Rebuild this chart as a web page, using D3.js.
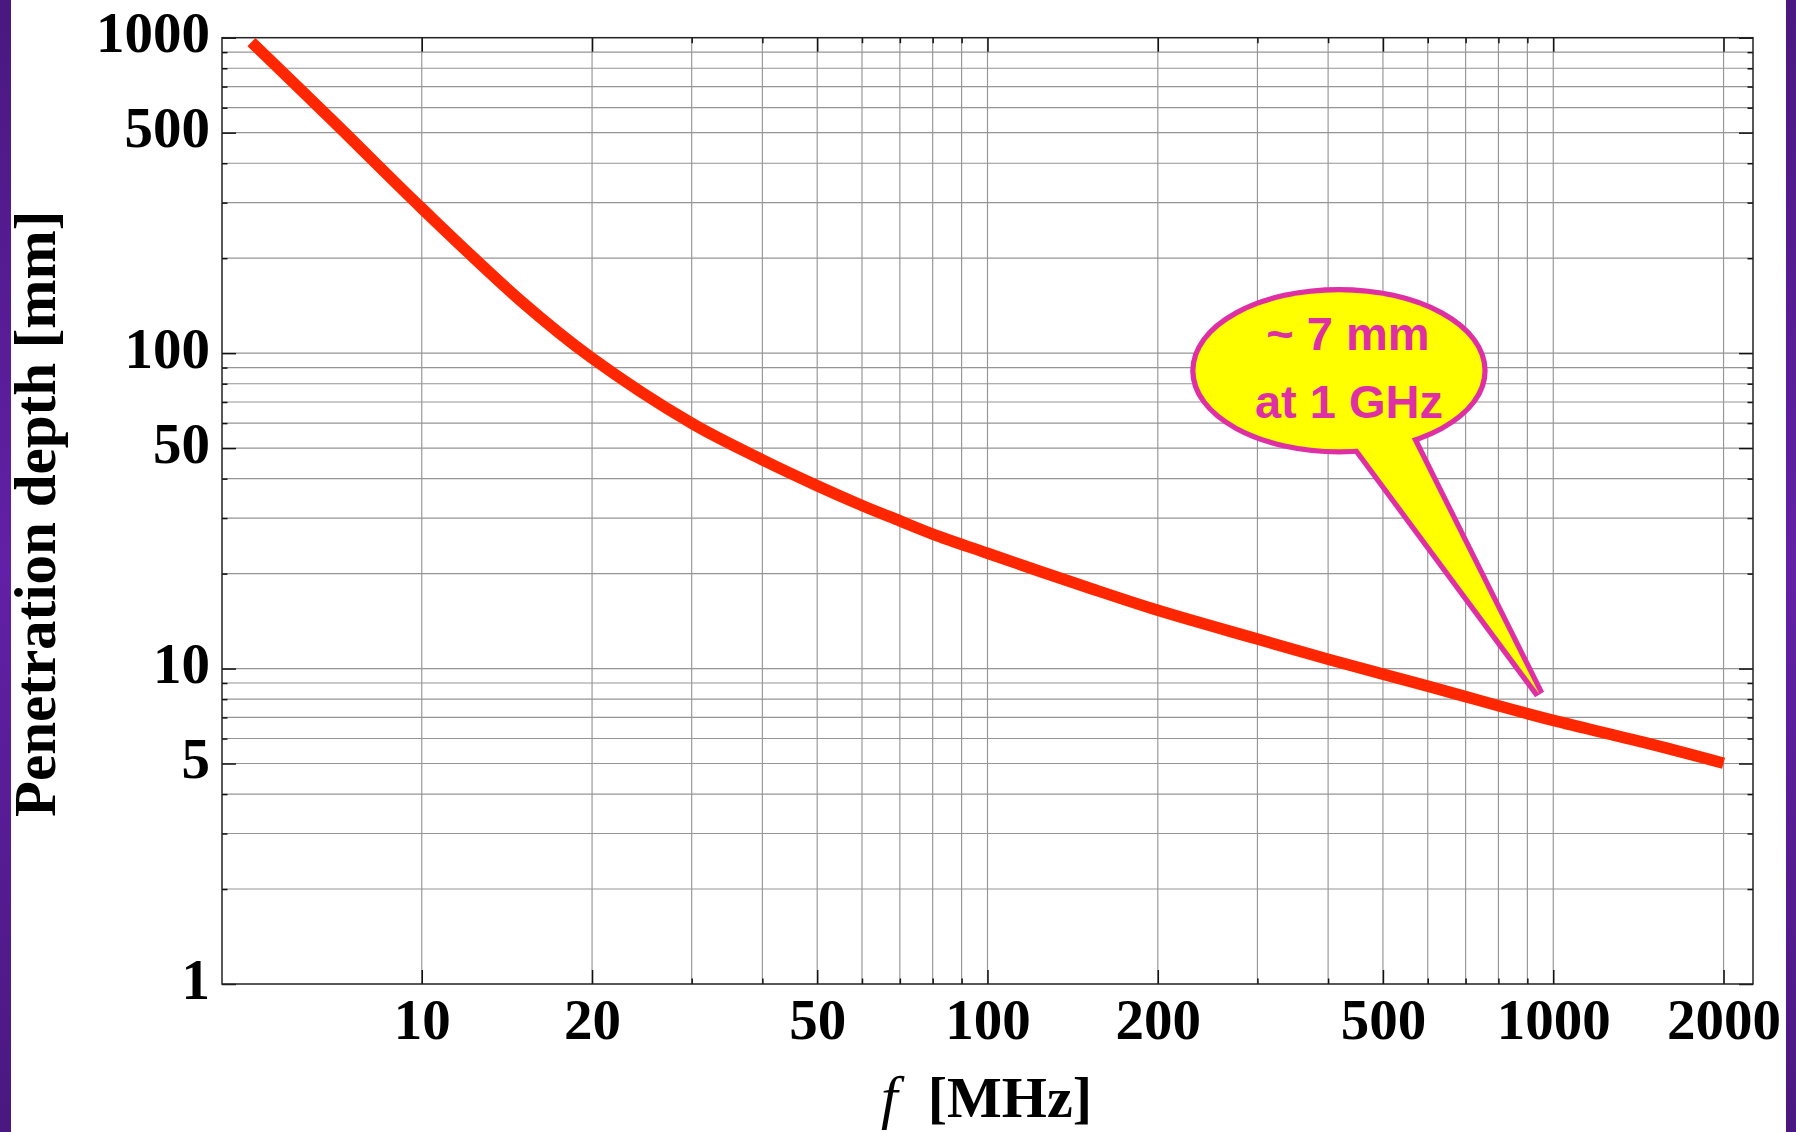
<!DOCTYPE html>
<html>
<head>
<meta charset="utf-8">
<script src="https://cdn.jsdelivr.net/npm/d3@7"></script>
<style>
  html, body { margin: 0; padding: 0; background: #ffffff; }
  svg { display: block; }
</style>
</head>
<body>
<svg id="chart" width="1796" height="1132"></svg>
<script>
// ---- data ----
const freqMHz  = [5, 7, 10, 15, 20, 30, 40, 50, 60, 70, 80, 100, 150, 200, 300, 400, 500, 600, 700, 800, 1000, 1500, 2000];
const depthMm  = [968, 540, 288, 146, 96.4, 59.9, 45.9, 38.0, 32.9, 29.4, 26.7, 23.2, 18.1, 15.3, 12.4, 10.7, 9.6, 8.8, 8.15, 7.62, 6.85, 5.74, 5.01];

const xMajorTicks = [10, 20, 50, 100, 200, 500, 1000, 2000];
const xMinorTicks = [30, 40, 60, 70, 80, 90, 300, 400, 600, 700, 800, 900];
const xGridValues = [10, 20, 30, 40, 50, 60, 70, 80, 90, 100, 200, 300, 400, 500, 600, 700, 800, 900, 1000, 2000];
const yMajorTicks = [1, 5, 10, 50, 100, 500, 1000];
const yMinorTicks = [2, 3, 4, 6, 7, 8, 9, 20, 30, 40, 60, 70, 80, 90, 200, 300, 400, 600, 700, 800, 900];
const yGridValues = [2, 3, 4, 5, 6, 7, 8, 9, 10, 20, 30, 40, 50, 60, 70, 80, 90, 100, 200, 300, 400, 500, 600, 700, 800, 900];

const xLabel = "[MHz]";
const xLabelVar = "f";
const yLabel = "Penetration depth [mm]";
const calloutLines = ["~ 7 mm", "at 1 GHz"];
const calloutTip = {f: 945, d: 8.3};
const calloutCenter = {f: 418, d: 88};

// ---- layout ----
const W = 1796, H = 1132;
const plot = {left: 222, right: 1753, top: 37.7, bottom: 984};

const svg = d3.select("#chart");

// purple side bands
const defs = svg.append("defs");
const grad = defs.append("linearGradient").attr("id", "purp").attr("x1", 0).attr("y1", 0).attr("x2", 0).attr("y2", 1);
grad.append("stop").attr("offset", "0%").attr("stop-color", "#4a1880");
grad.append("stop").attr("offset", "50%").attr("stop-color", "#6220a6");
grad.append("stop").attr("offset", "100%").attr("stop-color", "#4a1880");
svg.append("rect").attr("x", 0).attr("y", 0).attr("width", 11).attr("height", H).attr("fill", "url(#purp)");
svg.append("rect").attr("x", 1786).attr("y", 0).attr("width", 10).attr("height", H).attr("fill", "url(#purp)");

// scales: log, x with 2% padding (in log space) around the data range
const lx0 = Math.log10(d3.min(freqMHz)), lx1 = Math.log10(d3.max(freqMHz));
const pad = 0.02 * (lx1 - lx0);
const x = d3.scaleLog().domain([Math.pow(10, lx0 - pad), Math.pow(10, lx1 + pad)]).range([plot.left, plot.right]);
const y = d3.scaleLog().domain([1, 1000]).range([plot.bottom, plot.top]);

// grid lines
const grid = svg.append("g").attr("stroke", "#959595").attr("stroke-width", 1.15);
grid.selectAll("line.gx").data(xGridValues).join("line")
  .attr("x1", d => x(d)).attr("x2", d => x(d))
  .attr("y1", plot.top).attr("y2", plot.bottom);
grid.selectAll("line.gy").data(yGridValues).join("line")
  .attr("y1", d => y(d)).attr("y2", d => y(d))
  .attr("x1", plot.left).attr("x2", plot.right);

// axes (ticks pointing inward)
const fmt = d => String(d);
const tickFont = "'Liberation Serif', 'Times New Roman', serif";
function styleAxis(g) {
  g.select(".domain").remove();
  g.selectAll(".tick line").attr("stroke", "#111").attr("stroke-width", 1.5);
}

// left
svg.append("g").attr("transform", `translate(${plot.left},0)`)
  .call(d3.axisLeft(y).tickValues(yMajorTicks).tickSize(-14).tickPadding(12).tickFormat(fmt))
  .call(styleAxis)
  .call(g => g.selectAll("text")
    .attr("font-family", tickFont).attr("font-weight", "bold").attr("font-size", 57)
    .attr("fill", "#000").attr("dy", "0.25em"));
svg.append("g").attr("transform", `translate(${plot.left},0)`)
  .call(d3.axisLeft(y).tickValues(yMinorTicks).tickSize(-5.5).tickFormat(""))
  .call(styleAxis);
// right
svg.append("g").attr("transform", `translate(${plot.right},0)`)
  .call(d3.axisRight(y).tickValues(yMajorTicks).tickSize(-14).tickFormat(""))
  .call(styleAxis);
svg.append("g").attr("transform", `translate(${plot.right},0)`)
  .call(d3.axisRight(y).tickValues(yMinorTicks).tickSize(-5.5).tickFormat(""))
  .call(styleAxis);
// bottom
svg.append("g").attr("transform", `translate(0,${plot.bottom})`)
  .call(d3.axisBottom(x).tickValues(xMajorTicks).tickSize(-14).tickFormat(fmt))
  .call(styleAxis)
  .call(g => g.selectAll("text")
    .attr("font-family", tickFont).attr("font-weight", "bold").attr("font-size", 57)
    .attr("fill", "#000").attr("dy", null).attr("y", 55));
svg.append("g").attr("transform", `translate(0,${plot.bottom})`)
  .call(d3.axisBottom(x).tickValues(xMinorTicks).tickSize(-5.5).tickFormat(""))
  .call(styleAxis);
// top
svg.append("g").attr("transform", `translate(0,${plot.top})`)
  .call(d3.axisTop(x).tickValues(xMajorTicks).tickSize(-14).tickFormat(""))
  .call(styleAxis);
svg.append("g").attr("transform", `translate(0,${plot.top})`)
  .call(d3.axisTop(x).tickValues(xMinorTicks).tickSize(-5.5).tickFormat(""))
  .call(styleAxis);

// frame
svg.append("rect")
  .attr("x", plot.left).attr("y", plot.top)
  .attr("width", plot.right - plot.left).attr("height", plot.bottom - plot.top)
  .attr("fill", "none").attr("stroke", "#222").attr("stroke-width", 1.5);

// curve
const data = freqMHz.map((f, i) => ({f, d: depthMm[i]}));
const line = d3.line().x(p => x(p.f)).y(p => y(p.d)).curve(d3.curveCatmullRom.alpha(0.5));
svg.append("path").datum(data)
  .attr("d", line)
  .attr("fill", "none").attr("stroke", "#ff2600").attr("stroke-width", 11.5)
  .attr("stroke-linecap", "butt").attr("stroke-linejoin", "round");

// callout
const cx = x(calloutCenter.f), cy = y(calloutCenter.d);
const rx = 143.5, ry = 78.5;
const tipX = x(calloutTip.f), tipY = y(calloutTip.d);
const a1 = 83 * Math.PI / 180, a2 = 59 * Math.PI / 180;
const b1 = [cx + 0.97 * rx * Math.cos(a1), cy + 0.97 * ry * Math.sin(a1)];
const b2 = [cx + 0.97 * rx * Math.cos(a2), cy + 0.97 * ry * Math.sin(a2)];
const tail = `M${b1[0]},${b1[1]} L${tipX},${tipY} L${b2[0]},${b2[1]} Z`;
const magenta = "#df2fa4", yellow = "#ffff00";
const co = svg.append("g");
// outlines (double width; inner half hidden by fills)
co.append("ellipse").attr("cx", cx).attr("cy", cy).attr("rx", rx).attr("ry", ry)
  .attr("fill", yellow).attr("stroke", magenta).attr("stroke-width", 10.5);
co.append("path").attr("d", tail).attr("fill", yellow).attr("stroke", magenta)
  .attr("stroke-width", 10.5).attr("stroke-linejoin", "bevel");
co.append("ellipse").attr("cx", cx).attr("cy", cy).attr("rx", rx).attr("ry", ry).attr("fill", yellow);
co.append("path").attr("d", tail).attr("fill", yellow);
co.selectAll("text").data(calloutLines).join("text")
  .attr("x", (d, i) => cx + (i === 0 ? 9 : 10))
  .attr("y", (d, i) => cy + (i === 0 ? -21 : 47))
  .attr("text-anchor", "middle")
  .attr("font-family", "'Liberation Sans', Arial, sans-serif")
  .attr("font-weight", "bold").attr("font-size", 47)
  .attr("fill", magenta)
  .text(d => d);

// axis labels
const xl = svg.append("text")
  .attr("x", (plot.left + plot.right) / 2 - 1).attr("y", 1117)
  .attr("text-anchor", "middle")
  .attr("font-family", tickFont).attr("font-weight", "bold").attr("font-size", 58)
  .attr("fill", "#000");
xl.append("tspan").attr("font-style", "italic").attr("font-weight", "normal").attr("font-size", 60).text(xLabelVar);
xl.append("tspan").attr("dx", 30).text(xLabel);

svg.append("text")
  .attr("transform", `translate(55,${(plot.top + plot.bottom) / 2 + 3}) rotate(-90)`)
  .attr("text-anchor", "middle")
  .attr("font-family", tickFont).attr("font-weight", "bold").attr("font-size", 59)
  .attr("fill", "#000")
  .text(yLabel);
</script>
</body>
</html>
